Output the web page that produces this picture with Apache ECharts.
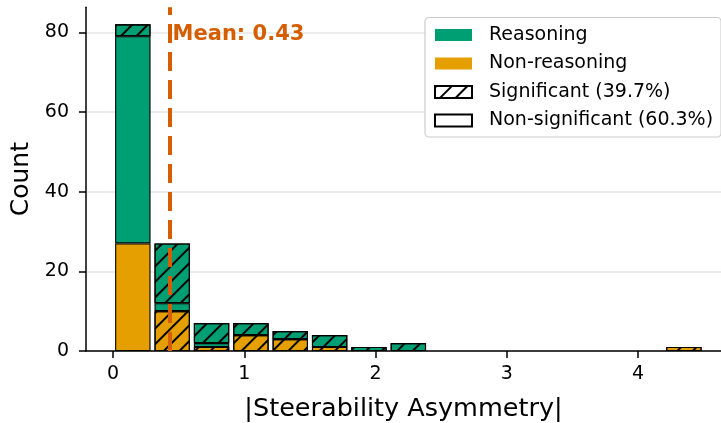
<!DOCTYPE html>
<html><head><meta charset="utf-8">
<script src="https://cdn.jsdelivr.net/npm/echarts@6/dist/echarts.min.js"></script>
<style>html,body{margin:0;padding:0;background:#fff}#c{width:721px;height:423px}</style>
</head><body><div id="c"></div>
<script>
// Histogram bins (centers of bins of width 0.3)
const binCenters = [0.15,0.45,0.75,1.05,1.35,1.65,1.95,2.25,2.55,2.85,3.15,3.45,3.75,4.05,4.35];
const nonReasoningNonSig = [27,0,0,0,0,0,0,0,0,0,0,0,0,0,0];
const nonReasoningSig    = [0,10,1,4,3,1,0,0,0,0,0,0,0,0,1];
const reasoningNonSig    = [52,2,1,0,0,0,0,0,0,0,0,0,0,0,0];
const reasoningSig       = [3,15,5,3,2,3,1,2,0,0,0,0,0,0,0];
const xTicks = [0,1,2,3,4];
const yTicks = [0,20,40,60,80];
const meanValue = 0.43;
const legendNames = ['Reasoning','Non-reasoning','Significant (39.7%)','Non-significant (60.3%)'];

const GREEN='#009E73', ORANGE='#E69F00', VERM='#D55E00';
const FONT='DejaVu Sans';
const W=721, H=423;
const GL=86, GR=0, GT=7.3, GB=72;          // plot area margins
const X_MIN=-0.207, X_MAX=4.633, Y_MAX=86.27; // axis ranges
const BIN_LO=0, BIN_HI=4.5;                  // histogram range
const pxPerUnit=(W-GL-GR)/(X_MAX-X_MIN);
const barGridLeft = GL + (BIN_LO-X_MIN)*pxPerUnit;
const barGridWidth = (BIN_HI-BIN_LO)*pxPerUnit;

function hatch(){ return {symbol:'rect', symbolSize:1, color:'#000', dashArrayX:[1,0], dashArrayY:[1.8,8.8], rotation:-Math.PI/4}; }

function barSeries(name, vals, color, hatched){
  const itemStyle = {color, borderColor:'#000', borderWidth:1.1};
  if (hatched) itemStyle.decal = hatch();
  return {type:'bar', name, stack:'all', barWidth:'90%', silent:true,
    xAxisIndex:1, yAxisIndex:1, data: vals.map(v => v === 0 ? '-' : v),
    itemStyle, emphasis:{disabled:true}};
}
function legendSeries(name, color, border, hatched){
  const itemStyle = {color, borderColor: border?'#000':'transparent', borderWidth: border?1.5:0};
  if (hatched) itemStyle.decal = hatch();
  return {type:'bar', name, stack:'all', data:[], silent:true, xAxisIndex:1, yAxisIndex:1, itemStyle};
}

const chart = echarts.init(document.getElementById('c'), null, {renderer:'canvas'});
chart.setOption({
  animation:false,
  textStyle:{fontFamily:FONT},
  grid:[{left:GL, right:GR, top:GT, bottom:GB, containLabel:false, outerBoundsMode:'none'},
        {left:barGridLeft, width:barGridWidth, top:GT, bottom:GB, containLabel:false, outerBoundsMode:'none'}],
  xAxis:[{type:'value', gridIndex:0, min:X_MIN, max:X_MAX,
    name:'|Steerability Asymmetry|', nameLocation:'middle', nameGap:45,
    nameTextStyle:{fontSize:25.5, color:'#000', fontFamily:FONT},
    axisLine:{show:true, onZero:false, lineStyle:{color:'#000', width:1.5}},
    axisTick:{show:true, length:7, customValues:xTicks, lineStyle:{color:'#000', width:1.5}},
    axisLabel:{customValues:xTicks, fontSize:19, color:'#000', margin:14, fontFamily:FONT},
    splitLine:{show:false}},
   {type:'category', gridIndex:1, data:binCenters, boundaryGap:true, show:false}],
  yAxis:[{type:'value', gridIndex:0, min:0, max:Y_MAX, interval:20,
    name:'Count', nameLocation:'middle', nameGap:50, nameRotate:90,
    nameTextStyle:{fontSize:25, color:'#000', fontFamily:FONT},
    axisLine:{show:true, onZero:false, lineStyle:{color:'#000', width:1.5}},
    axisTick:{show:true, length:7, customValues:yTicks, lineStyle:{color:'#000', width:1.5}},
    axisLabel:{customValues:yTicks, fontSize:19, color:'#000', margin:17, fontFamily:FONT},
    splitLine:{show:true, lineStyle:{color:'#e6e6e6', width:1.5}}},
   {type:'value', gridIndex:1, min:0, max:Y_MAX, show:false, splitLine:{show:false}}],
  legend:{orient:'vertical', left:425, top:17.5, padding:[8,8,7,9], itemGap:9.5,
    itemWidth:37, itemHeight:12, icon:'rect',
    backgroundColor:'#fff', borderColor:'#cccccc', borderWidth:1.2, borderRadius:4,
    textStyle:{fontSize:19, color:'#000', fontFamily:FONT, padding:[0,0,0,12]},
    selectedMode:false, data:legendNames},
  series:[
    barSeries('Non-reasoning, non-significant', nonReasoningNonSig, ORANGE, false),
    barSeries('Non-reasoning, significant', nonReasoningSig, ORANGE, true),
    barSeries('Reasoning, non-significant', reasoningNonSig, GREEN, false),
    barSeries('Reasoning, significant', reasoningSig, GREEN, true),
    legendSeries(legendNames[0], GREEN, false, false),
    legendSeries(legendNames[1], ORANGE, false, false),
    legendSeries(legendNames[2], '#fff', true, true),
    legendSeries(legendNames[3], '#fff', true, false),
    {type:'scatter', name:'mean', data:[], silent:true, z:10, xAxisIndex:0, yAxisIndex:0,
      markLine:{silent:true, symbol:'none', label:{show:false},
        lineStyle:{color:VERM, width:4, type:[19,9]},
        data:[{xAxis:meanValue}]},
      markPoint:{silent:true, symbol:'circle', symbolSize:0,
        label:{show:true, position:'right', distance:3, formatter:'Mean: '+meanValue.toFixed(2),
          color:VERM, fontWeight:'bold', fontSize:21, fontFamily:FONT},
        data:[{coord:[meanValue, 79.5]}]}}
  ]
});
</script></body></html>
